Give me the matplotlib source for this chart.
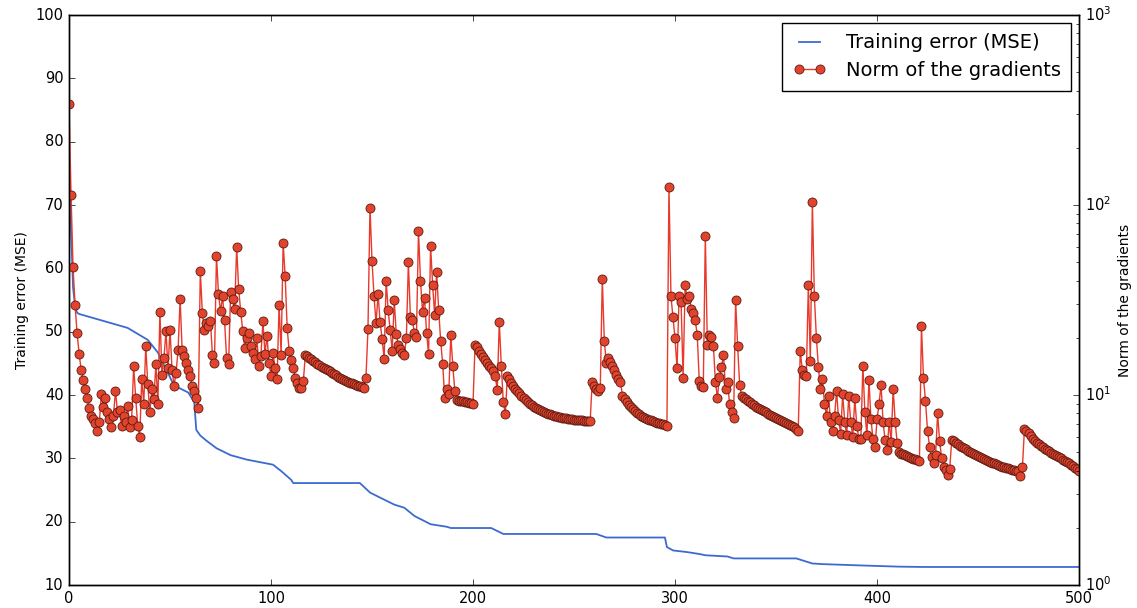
import numpy as np
import matplotlib
matplotlib.use('Agg')
from matplotlib import pyplot as plt

plt.style.use('classic')
plt.rcParams['font.family'] = ['DejaVu Sans']

# training error (MSE), read at the corners of the curve
err_iter = [0, 1, 2, 3, 4, 5, 29, 39, 44, 52, 59, 62, 63, 65, 68, 73, 80, 88,
            101, 105, 110, 111, 144, 149, 154, 161, 166, 171, 179, 187, 189,
            209, 215, 261, 266, 295, 296, 299, 306, 312, 315, 326, 329, 360,
            363, 368, 373, 394, 411, 423, 500]
err_vals = [78.0, 66.0, 57.0, 54.0, 53.0, 52.8, 50.6, 48.7, 46.7, 41.5, 40.4,
            38.9, 34.5, 33.6, 32.8, 31.6, 30.5, 29.8, 29.0, 28.0, 26.6, 26.1,
            26.1, 24.6, 23.8, 22.7, 22.2, 20.9, 19.6, 19.2, 19.0, 19.0, 18.06,
            18.06, 17.5, 17.5, 16.0, 15.46, 15.2, 14.9, 14.7, 14.5, 14.2, 14.2,
            13.9, 13.4, 13.3, 13.07, 12.9, 12.85, 12.85]

# norm of the gradients, one value per iteration (0..500)
grad_a = [340, 113, 47, 29.6, 21.2, 16.5, 13.6, 12.0, 10.7, 9.6,
          8.5, 7.8, 7.5, 7.1, 6.5, 7.2, 10.1, 8.6, 9.7, 8.1,
          7.5, 6.8, 7.8, 10.5, 8.1, 8.3, 6.9, 7.8, 7.2, 8.8,
          6.8, 7.35, 14.2, 9.7, 6.9, 6.0, 12.1, 9.0, 18.1, 11.4,
          8.1, 10.7, 9.5, 14.5, 9.0, 27.5, 12.8, 15.7, 21.6, 13.8,
          22.0, 13.6, 11.2, 13.1, 17.3, 32.0, 17.3, 16.0, 14.8, 13.5,
          12.6, 11.2, 10.5, 9.7, 8.5]                                   # 0-64
grad_b = [45, 27, 22, 23.8, 23.0, 24.4, 16.3, 14.8, 54, 34,
          27.6, 33, 24.7, 15.7, 14.5, 34.8, 32, 28.5, 60, 36,
          27.5, 21.7, 17.7, 20.0, 21.2, 18.1, 16.6, 15.5, 19.9, 14.3,
          16.1, 24.4, 16.5, 20.4, 14.8, 12.6, 16.6, 13.9, 12.1, 29.7,
          16.3, 63, 42.5, 22.5, 17.0, 15.3, 13.9, 12.3, 11.5, 10.9,
          10.9, 11.8]                                                    # 65-116
grad_c = [16.3, 16.0, 15.7, 15.4, 15.1, 14.9, 14.6, 14.4, 14.1, 13.9,
          13.7, 13.5, 13.3, 13.1, 12.9, 12.7, 12.5, 12.3, 12.2, 12.0,
          11.9, 11.7, 11.6, 11.5, 11.4, 11.3, 11.2, 11.1, 11.0, 10.9,
          12.3]                                                          # 117-147
grad_d = [22.3, 97, 51, 33, 23.8, 34, 24.2, 19.7, 15.5, 40,
          28, 22, 17.1, 31.5, 21, 18.4, 17.5, 16.6, 16.2, 19.9,
          50, 25.8, 24.8, 21.2, 20.3, 73, 40, 27.5, 32.5, 21.2,
          16.5, 61, 38, 26.4, 44.5, 28, 19.2, 14.5, 9.6, 10.7,
          10.1, 20.7, 14.2, 10.5]                                        # 148-191
grad_e = [9.4, 9.35, 9.3, 9.25, 9.2, 9.15, 9.1, 9.05, 9.0,
          18.4, 17.8, 17.1, 16.5, 15.9, 15.3, 14.8, 14.3, 13.8, 13.4,
          12.6, 10.6, 24.3, 14.3, 9.15, 7.97]                            # 192-216
grad_f = [12.6, 12.1, 11.6, 11.2, 10.8, 10.5, 10.2, 9.9, 9.65, 9.4,
          9.2, 9.0, 8.85, 8.7, 8.55, 8.4, 8.3, 8.2, 8.1, 8.0,
          7.95, 7.9, 7.85, 7.8, 7.75, 7.7, 7.65, 7.6, 7.57, 7.54,
          7.5, 7.47, 7.44, 7.42, 7.4, 7.38, 7.36, 7.35, 7.34, 7.33,
          7.32, 7.3]                                                     # 217-258
grad_g = [11.7, 11.2, 10.8, 10.5, 10.9, 41, 19.2, 14.8, 15.6, 15.0,
          14.2, 13.5, 12.8, 12.2, 11.7, 9.9, 9.5, 9.2, 8.9, 8.6,
          8.4, 8.2, 8.05, 7.9, 7.8, 7.7, 7.6, 7.5, 7.42, 7.35,
          7.28, 7.22, 7.16, 7.1, 7.05, 7.0, 6.95, 6.9]                   # 259-296
grad_h = [124, 33, 25.8, 19.9, 13.8, 33, 31, 12.3, 37.8, 32,
          33, 28.5, 27, 24.8, 20.7, 11.9, 11.2, 11.0, 69, 18.4,
          20.7, 20.3, 18.2, 11.7, 9.7, 12.5, 14.0, 16.3, 10.7, 11.7,
          9.0, 8.1, 7.55, 31.5, 18.1, 11.3]                              # 297-332
grad_i = [9.9, 9.7, 9.5, 9.3, 9.15, 9.0, 8.85, 8.7, 8.55, 8.45,
          8.33, 8.2, 8.1, 7.98, 7.87, 7.77, 7.67, 7.57, 7.48, 7.39,
          7.3, 7.2, 7.12, 7.03, 6.95, 6.85, 6.75, 6.65, 6.5]             # 333-361
grad_j = [17, 13.6, 12.8, 12.6, 37.8, 15.1, 104, 33, 19.9, 14.0,
          10.7, 12.1, 9.0,
          7.8, 9.9, 7.2, 6.45, 7.8, 10.5, 7.35, 6.27, 10.1, 7.25,
          6.15, 9.9, 7.2, 6.0, 9.6, 6.9, 5.9, 5.85, 14.3, 8.1,
          6.15, 12.0, 7.45, 5.9, 5.3, 7.45, 9.0, 11.3, 7.2, 5.8,
          5.13, 7.2, 5.67, 10.8, 7.2, 5.57]                              # 362-410
grad_k = [5.0, 4.92, 4.87, 4.82, 4.77, 4.72, 4.67, 4.62, 4.58, 4.55,
          4.5, 23, 12.3, 9.3, 6.5, 5.35, 4.74, 4.38, 4.83, 8.0,
          5.7, 4.65, 4.2, 4.04, 3.8, 4.1]                                # 411-436
grad_l = [5.8, 5.7, 5.6, 5.5, 5.42, 5.34, 5.26, 5.18, 5.1, 5.03,
          4.96, 4.9, 4.84, 4.78, 4.72, 4.66, 4.61, 4.56, 4.51, 4.46,
          4.41, 4.37, 4.32, 4.28, 4.24, 4.2, 4.17, 4.14, 4.11, 4.08,
          4.05, 4.02, 3.99, 3.96, 3.73, 4.2, 6.65]                       # 437-473
grad_m = [6.5, 6.3, 6.1, 5.9, 5.75, 5.62, 5.5, 5.4, 5.3, 5.21,
          5.13, 5.05, 4.98, 4.92, 4.85, 4.78, 4.71, 4.64, 4.57, 4.5,
          4.44, 4.38, 4.3, 4.22, 4.14, 4.06, 4.0]                        # 474-500

grad_norm = (grad_a + grad_b + grad_c + grad_d + grad_e + grad_f + grad_g +
             grad_h + grad_i + grad_j + grad_k + grad_l + grad_m)
grad_iter = np.arange(len(grad_norm))

fig = plt.figure(figsize=(11.37, 6.08), dpi=100, facecolor='white')
ax1 = fig.add_axes([0.0607, 0.0378, 0.8883, 0.9375])
ax2 = ax1.twinx()

l1, = ax1.plot(err_iter, err_vals, color='#3b6bd0', lw=1.3,
               label='Training error (MSE)')
l2, = ax2.plot(grad_iter, grad_norm, color='#e8392a', lw=1.0, marker='o',
               markersize=6.5, markerfacecolor='#e2432c',
               markeredgecolor='#5a1a12', markeredgewidth=0.6,
               label='Norm of the gradients')

ax1.set_xlim(0, 500)
ax1.set_ylim(10, 100)
ax1.set_yticks(np.arange(10, 101, 10))
ax1.set_xticks(np.arange(0, 501, 100))
ax2.set_yscale('log')
ax2.set_ylim(1, 1000)

ax1.set_ylabel('Training error (MSE)', fontsize=10)
ax2.set_ylabel('Norm of the gradients', fontsize=10)
ax1.tick_params(labelsize=10.5)
ax2.tick_params(labelsize=10.5)

ax2.legend([l1, l2], [l1.get_label(), l2.get_label()], loc='upper right',
           fontsize=14, numpoints=2, frameon=True, fancybox=False,
           borderaxespad=0.4, handlelength=1.7, handletextpad=1.0,
           borderpad=0.55, labelspacing=0.45)

fig.savefig('out.png', dpi=100, facecolor='white')
